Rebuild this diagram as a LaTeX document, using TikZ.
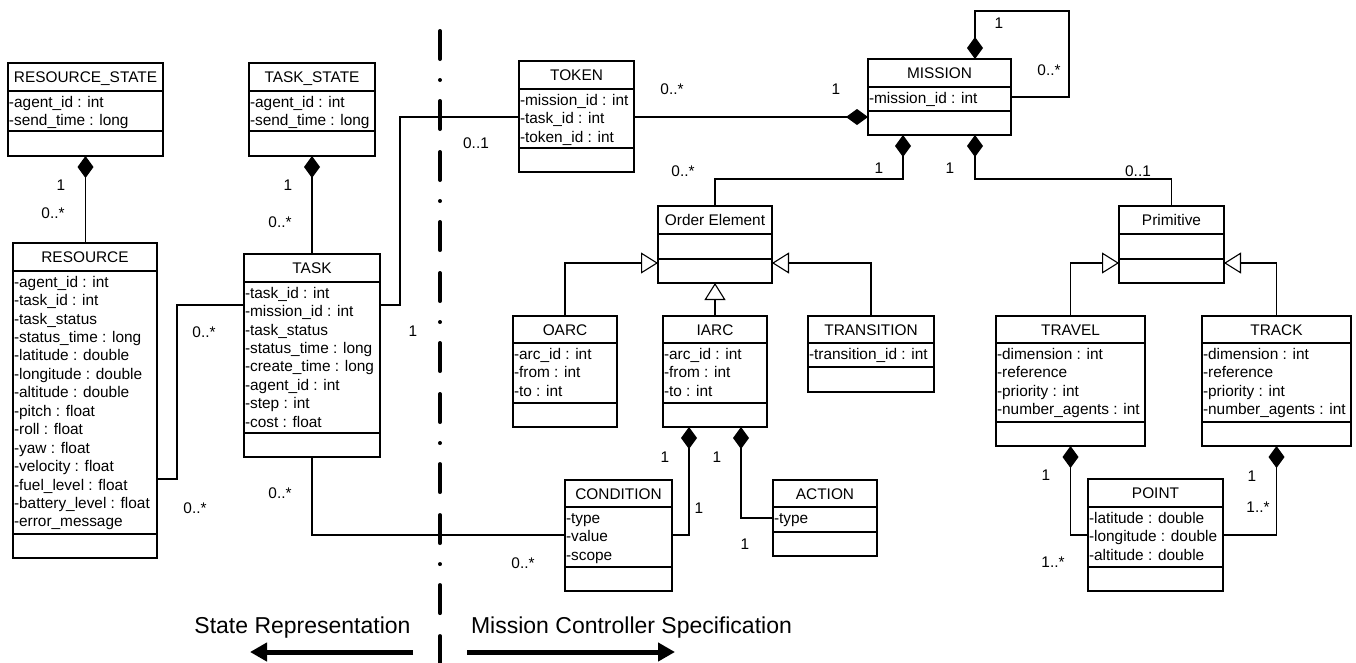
\documentclass[tikz,border=0pt]{standalone}
\usepackage{fontspec}
\setmainfont{Liberation Sans}
\usetikzlibrary{arrows.meta,calc}
\newcommand\attrfont{\fontsize{15.4}{18.45}\selectfont}
\newcommand\bigfont{\fontsize{23}{27}\selectfont}
\tikzset{
  box/.style={draw, line width=1.4pt, inner sep=0pt, outer sep=0pt, anchor=north west},
  sepline/.style={line width=1.4pt},
  ttl/.style={font=\attrfont, anchor=base, yshift=-5.5pt, inner sep=0pt},
  attr/.style={font=\attrfont, anchor=north west, align=left, inner sep=0pt},
  lab/.style={font=\attrfont, anchor=base, yshift=-5.5pt, inner sep=0pt},
  conn/.style={line width=1.1pt},
  comp/.style={conn, {Diamond[length=22pt,width=16pt]}-},
  inh/.style={conn, {Triangle[open,length=17pt,width=21pt,fill=white]}-},
  bigarrow/.style={line width=5pt, -{Triangle[length=17pt,width=18pt]}},
  divider/.style={line width=4pt, line cap=round, dash pattern=on 28pt off 21pt on 0.01pt off 21pt on 28pt off 23pt},
  bigtext/.style={font=\bigfont, anchor=base, yshift=-8.2pt, inner sep=0pt}
}
% #1 name, #2 x1, #3 y1, #4 x2, #5 header sep, #6 attr sep, #7 y2, #8 title, #9 attrs
\newcommand\umlclass[9]{%
  \node[box, minimum width={(#4-#2)*1pt}, minimum height={(#7-#3)*1pt}] (#1) at (#2,#3) {};
  \draw[sepline] (#2,#5) -- (#4,#5) (#2,#6) -- (#4,#6);
  \node[ttl] at ({(#2+#4)/2},{(#3+#5)/2}) {#8};
  \node[attr] at (#2+0.8,#5+3) {#9};
}
\begin{document}
\begin{tikzpicture}[x=1pt,y=-1pt]
\useasboundingbox (0,0) rectangle (1356,662);

% divider
\coordinate (divtop) at (440,31);
\coordinate (divbot) at (440,666);
\draw[divider] (divtop) -- (divbot);

% classes
\umlclass{rs}{8}{63}{163}{91}{131}{156}{RESOURCE\_STATE}{\strut-agent\_id : int\\-send\_time : long}
\umlclass{ts}{249}{63}{375}{91}{131}{156}{TASK\_STATE}{\strut-agent\_id : int\\-send\_time : long}
\umlclass{res}{13}{243}{157}{271}{534}{558}{RESOURCE}{\strut-agent\_id : int\\-task\_id : int\\-task\_status\\-status\_time : long\\-latitude : double\\-longitude : double\\-altitude : double\\-pitch : float\\-roll : float\\-yaw : float\\-velocity : float\\-fuel\_level : float\\-battery\_level : float\\-error\_message}
\umlclass{task}{244}{254}{380}{282}{433}{457}{TASK}{\strut-task\_id : int\\-mission\_id : int\\-task\_status\\-status\_time : long\\-create\_time : long\\-agent\_id : int\\-step : int\\-cost : float}
\umlclass{token}{519}{61}{634}{89}{148}{172}{TOKEN}{\strut-mission\_id : int\\-task\_id : int\\-token\_id : int}
\umlclass{mission}{868}{59}{1011}{87}{111}{135}{MISSION}{\strut-mission\_id : int}
\umlclass{oe}{658}{206}{772}{234}{259}{283}{Order Element}{}
\umlclass{oarc}{513}{316}{617}{343}{403}{427}{OARC}{\strut-arc\_id : int\\-from : int\\-to : int}
\umlclass{iarc}{663}{316}{767}{343}{403}{427}{IARC}{\strut-arc\_id : int\\-from : int\\-to : int}
\umlclass{trans}{808}{316}{934}{343}{367}{392}{TRANSITION}{\strut-transition\_id : int}
\umlclass{cond}{565}{480}{672}{507}{567}{591}{CONDITION}{\strut-type\\-value\\-scope}
\umlclass{action}{773}{480}{877}{507}{532}{556}{ACTION}{\strut-type}
\umlclass{prim}{1119}{206}{1224}{234}{259}{283}{Primitive}{}
\umlclass{travel}{996}{316}{1145}{343}{422}{446}{TRAVEL}{\strut-dimension : int\\-reference\\-priority : int\\-number\_agents : int}
\umlclass{track}{1202}{316}{1351}{343}{422}{446}{TRACK}{\strut-dimension : int\\-reference\\-priority : int\\-number\_agents : int}
\umlclass{point}{1088}{479}{1223}{507}{567}{591}{POINT}{\strut-latitude : double\\-longitude : double\\-altitude : double}

% connectors
\draw[comp] (rs.south) -- (rs.south |- res.north);
\draw[comp] (ts.south) -- (ts.south |- task.north);
\draw[conn] ($(res.north east)+(0,236)$) -- ++(20,0) |- ($(task.north west)+(0,51)$);
\draw[conn] ($(task.north east)+(0,51)$) -- ++(20,0) |- ($(token.north west)+(0,56)$);
\draw[comp] ($(mission.north west)+(0,58)$) -- ($(token.north east)+(0,56)$);
\draw[comp] ($(mission.north west)+(107,0)$) |- ++(94,-48) |- ($(mission.north east)+(0,38)$);
\draw[comp] ($(mission.south west)+(35,0)$) -- ++(0,44) -| (oe.north);
\draw[comp] ($(mission.south west)+(107,0)$) -- ++(0,44) -| (prim.north);
\draw[inh] ($(oe.north west)+(0,57)$) -| (oarc.north);
\draw[inh] ($(oe.north east)+(0,57)$) -| (trans.north);
\draw[inh] (oe.south) -- (oe.south |- iarc.north);
\draw[comp] ($(iarc.south west)+(26,0)$) |- ($(cond.north east)+(0,55)$);
\draw[comp] ($(iarc.south west)+(78,0)$) |- ($(action.north west)+(0,38)$);
\draw[conn] (task.south) |- ($(cond.north west)+(0,55)$);
\draw[inh] ($(prim.north west)+(0,57)$) -| (travel.north);
\draw[inh] ($(prim.north east)+(0,57)$) -| (track.north);
\draw[comp] (travel.south) |- ($(point.north west)+(0,56)$);
\draw[comp] (track.south) |- ($(point.north east)+(0,56)$);

% multiplicities
\node[lab] at (61,185) {1};
\node[lab] at (53,213) {0..*};
\node[lab] at (288,185) {1};
\node[lab] at (280,222) {0..*};
\node[lab] at (204,332) {0..*};
\node[lab] at (195,508) {0..*};
\node[lab] at (413,331) {1};
\node[lab] at (476,143) {0..1};
\node[lab] at (672,89) {0..*};
\node[lab] at (836,89) {1};
\node[lab] at (999,23) {1};
\node[lab] at (1049,70) {0..*};
\node[lab] at (683,171) {0..*};
\node[lab] at (879,168) {1};
\node[lab] at (950,168) {1};
\node[lab] at (1138,171) {0..1};
\node[lab] at (280,493) {0..*};
\node[lab] at (665,457) {1};
\node[lab] at (717,457) {1};
\node[lab] at (699,508) {1};
\node[lab] at (745,544) {1};
\node[lab] at (523,563) {0..*};
\node[lab] at (1046,475) {1};
\node[lab] at (1053,562) {1..*};
\node[lab] at (1252,476) {1};
\node[lab] at (1258,507) {1..*};

% bottom captions and arrows
\node[bigtext] (staterep) at (302.5,625) {State Representation};
\node[bigtext] (mcspec) at (631.5,625) {Mission Controller Specification};
\coordinate (la) at (413,652);
\coordinate (lb) at (250,652);
\coordinate (ra) at (467,652);
\coordinate (rb) at (675,652);
\draw[bigarrow] (la) -- (lb);
\draw[bigarrow] (ra) -- (rb);
\end{tikzpicture}
\end{document}
